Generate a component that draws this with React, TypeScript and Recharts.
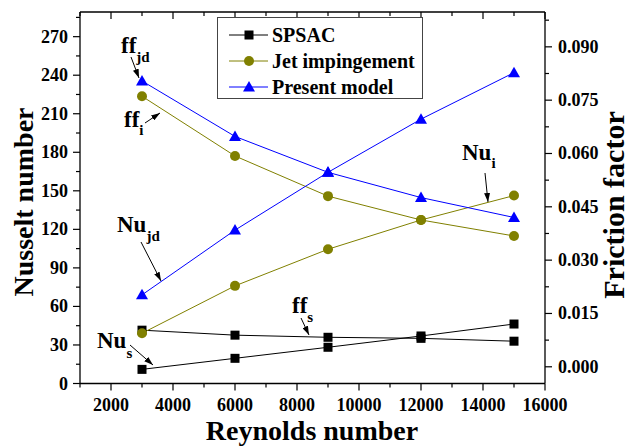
import { ComposedChart, Line, XAxis, YAxis, Legend, Customized } from "recharts";

const FONT = "'Liberation Serif', 'Times New Roman', serif";

// Reynolds numbers on the x axis
const reynolds = [3000, 6000, 9000, 12000, 15000];

// Nusselt number (left axis) and friction factor (right axis) per model
const nuSpsac = [11, 19.6, 28.2, 37, 46.3];
const ffSpsac = [0.0103, 0.0089, 0.0083, 0.008, 0.0072];
const nuJet = [39.1, 76, 104.5, 127.3, 146.3];
const ffJet = [0.0761, 0.0593, 0.048, 0.0413, 0.0368];
const nuPresent = [69, 119.4, 164.4, 205.8, 242];
const ffPresent = [0.0804, 0.0648, 0.0547, 0.0476, 0.042];

// tick values (major ones get labels)
const xTicks = [1000, 2000, 3000, 4000, 5000, 6000, 7000, 8000, 9000, 10000, 11000, 12000, 13000, 14000, 15000, 16000];
const xMajor = [2000, 4000, 6000, 8000, 10000, 12000, 14000, 16000];
const nuTicks = [0, 15, 30, 45, 60, 75, 90, 105, 120, 135, 150, 165, 180, 195, 210, 225, 240, 255, 270, 285];
const nuMajor = [0, 30, 60, 90, 120, 150, 180, 210, 240, 270];
const ffTicks = [0, 0.0075, 0.015, 0.0225, 0.03, 0.0375, 0.045, 0.0525, 0.06, 0.0675, 0.075, 0.0825, 0.09, 0.0975];
const ffMajor = [0, 0.015, 0.03, 0.045, 0.06, 0.075, 0.09];

const data = reynolds.map((re, i) => ({
  re,
  nuS: nuSpsac[i],
  ffS: ffSpsac[i],
  nuJ: nuJet[i],
  ffJ: ffJet[i],
  nuP: nuPresent[i],
  ffP: ffPresent[i],
}));

const BLACK = "#000000";
const OLIVE = "#808000";
const BLUE = "#0000FF";

const legendItems = [
  { name: "SPSAC", color: BLACK, shape: "square" },
  { name: "Jet impingement", color: OLIVE, shape: "circle" },
  { name: "Present model", color: BLUE, shape: "triangle" },
];

const labelStyle = { fontFamily: FONT, fontWeight: "bold" as const, fontSize: 18, fill: "#000" };

const Marker = ({ shape, cx, cy, color }: { shape: string; cx: number; cy: number; color: string }) => {
  if (shape === "square") return <rect x={cx - 4.5} y={cy - 4.5} width={9} height={9} fill={color} />;
  if (shape === "triangle")
    return <polygon points={`${cx},${cy - 6} ${cx - 6},${cy + 4.5} ${cx + 6},${cy + 4.5}`} fill={color} />;
  return <circle cx={cx} cy={cy} r={5} fill={color} />;
};

const squareDot = (props: any) => <Marker key={props.key} shape="square" cx={props.cx} cy={props.cy} color={BLACK} />;
const circleDot = (props: any) => <Marker key={props.key} shape="circle" cx={props.cx} cy={props.cy} color={OLIVE} />;
const triangleDot = (props: any) => <Marker key={props.key} shape="triangle" cx={props.cx} cy={props.cy} color={BLUE} />;

const BottomTick = (props: any) => {
  const { x, y, payload } = props;
  const major = xMajor.includes(payload.value);
  return (
    <g>
      <line x1={x} y1={y} x2={x} y2={y + (major ? 7 : 4)} stroke="#000" strokeWidth={1.2} />
      {major && (
        <text x={x} y={y + 27.5} textAnchor="middle" {...labelStyle}>
          {payload.value}
        </text>
      )}
    </g>
  );
};

const TopTick = (props: any) => {
  const { x, y, payload } = props;
  const major = xMajor.includes(payload.value);
  return <line x1={x} y1={y} x2={x} y2={y + (major ? 7 : 4)} stroke="#000" strokeWidth={1.2} />;
};

const LeftTick = (props: any) => {
  const { x, y, payload } = props;
  const major = nuMajor.includes(payload.value);
  return (
    <g>
      <line x1={x - (major ? 7 : 4)} y1={y} x2={x} y2={y} stroke="#000" strokeWidth={1.2} />
      {major && (
        <text x={x - 12} y={y + 6} textAnchor="end" {...labelStyle}>
          {payload.value}
        </text>
      )}
    </g>
  );
};

const RightTick = (props: any) => {
  const { x, y, payload } = props;
  const major = ffMajor.includes(payload.value);
  return (
    <g>
      <line x1={x} y1={y} x2={x + (major ? 7 : 4)} y2={y} stroke="#000" strokeWidth={1.2} />
      {major && (
        <text x={x + 13} y={y + 6} textAnchor="start" {...labelStyle}>
          {payload.value.toFixed(3)}
        </text>
      )}
    </g>
  );
};

const LegendBox = () => (
  <div
    style={{
      position: "relative",
      width: 206,
      height: 82,
      border: "1px solid #444",
      boxSizing: "border-box",
      background: "#fff",
      fontFamily: FONT,
      fontWeight: "bold",
      fontSize: 20,
      color: "#000",
    }}
  >
    {legendItems.map((it, i) => (
      <div
        key={it.name}
        style={{ position: "absolute", left: 0, top: 4 + i * 26, height: 26, display: "flex", alignItems: "center", whiteSpace: "nowrap" }}
      >
        <svg width={54} height={26} style={{ display: "block" }}>
          <line x1={11} x2={50} y1={13} y2={13} stroke={it.color} strokeWidth={1} />
          <Marker shape={it.shape} cx={31} cy={13} color={it.color} />
        </svg>
        <span style={{ lineHeight: "26px" }}>{it.name}</span>
      </div>
    ))}
  </div>
);

const Arrow = ({ x1, y1, x2, y2 }: { x1: number; y1: number; x2: number; y2: number }) => (
  <line x1={x1} y1={y1} x2={x2} y2={y2} stroke="#000" strokeWidth={1} markerEnd="url(#arrowHead)" />
);

const Note = ({ x, y, main, sub, dy }: { x: number; y: number; main: string; sub: string; dy: number }) => (
  <text x={x} y={y} fontFamily={FONT} fontWeight="bold" fontSize={23} fill="#000">
    {main}
    <tspan fontSize={15} dy={dy}>
      {sub}
    </tspan>
  </text>
);

const Annotations = () => (
  <g>
    <defs>
      <marker id="arrowHead" markerWidth={9} markerHeight={6} refX={9} refY={3} orient="auto" markerUnits="userSpaceOnUse">
        <path d="M0,0 L9,3 L0,6 z" fill="#000" />
      </marker>
    </defs>
    {/* axis titles */}
    <text x={33} y={202} transform="rotate(-90 33 202)" textAnchor="middle" fontFamily={FONT} fontWeight="bold" fontSize={28} fill="#000">
      Nusselt number
    </text>
    <text x={624} y={205} transform="rotate(-90 624 205)" textAnchor="middle" fontFamily={FONT} fontWeight="bold" fontSize={30} fill="#000">
      Friction factor
    </text>
    <text x={312} y={440} textAnchor="middle" fontFamily={FONT} fontWeight="bold" fontSize={28} fill="#000">
      Reynolds number
    </text>

    {/* curve labels */}
    <Note x={121} y={53} main="ff" sub="jd" dy={9} />
    <Arrow x1={131} y1={57} x2={139} y2={78} />
    <Note x={124} y={127} main="ff" sub="i" dy={8} />
    <Arrow x1={145} y1={123} x2={160} y2={113} />
    <Note x={117} y={232} main="Nu" sub="jd" dy={9} />
    <Arrow x1={141} y1={242} x2={161} y2={281} />
    <Note x={97} y={348} main="Nu" sub="s" dy={10} />
    <Arrow x1={130} y1={345} x2={153} y2={365} />
    <Note x={292} y={313} main="ff" sub="s" dy={9} />
    <Arrow x1={301} y1={318} x2={309} y2={335} />
    <Note x={462} y={160} main="Nu" sub="i" dy={8} />
    <Arrow x1={485} y1={173} x2={488} y2={202} />
  </g>
);

export default function App() {
  return (
    <div style={{ position: "absolute", left: 0, top: 0, background: "#fff" }}>
      <ComposedChart width={629} height={447} data={data} margin={{ top: 0, right: 0, bottom: 0, left: 0 }}>
        <XAxis
          xAxisId="bottom"
          type="number"
          dataKey="re"
          domain={[1000, 16000]}
          ticks={xTicks}
          interval={0}
          height={63.5}
          tickSize={0}
          tickMargin={0}
          tickLine={false}
          tick={<BottomTick />}
          axisLine={{ stroke: "#000", strokeWidth: 1.3 }}
        />
        <XAxis
          xAxisId="top"
          orientation="top"
          type="number"
          dataKey="re"
          domain={[1000, 16000]}
          ticks={xTicks}
          interval={0}
          height={12}
          tickSize={0}
          tickMargin={0}
          tickLine={false}
          tick={<TopTick />}
          axisLine={{ stroke: "#000", strokeWidth: 1.3 }}
        />
        <YAxis
          yAxisId="nu"
          type="number"
          domain={[0, 289.2]}
          ticks={nuTicks}
          interval={0}
          width={80}
          tickSize={0}
          tickMargin={0}
          tickLine={false}
          tick={<LeftTick />}
          axisLine={{ stroke: "#000", strokeWidth: 1.3 }}
        />
        <YAxis
          yAxisId="ff"
          orientation="right"
          type="number"
          domain={[-0.0047, 0.0998]}
          ticks={ffTicks}
          interval={0}
          width={84}
          tickSize={0}
          tickMargin={0}
          tickLine={false}
          tick={<RightTick />}
          axisLine={{ stroke: "#000", strokeWidth: 1.3 }}
        />

        <Line xAxisId="bottom" yAxisId="nu" dataKey="nuS" stroke={BLACK} strokeWidth={1} dot={squareDot} isAnimationActive={false} />
        <Line xAxisId="bottom" yAxisId="ff" dataKey="ffS" stroke={BLACK} strokeWidth={1} dot={squareDot} isAnimationActive={false} />
        <Line xAxisId="bottom" yAxisId="nu" dataKey="nuJ" stroke={OLIVE} strokeWidth={1} dot={circleDot} isAnimationActive={false} />
        <Line xAxisId="bottom" yAxisId="ff" dataKey="ffJ" stroke={OLIVE} strokeWidth={1} dot={circleDot} isAnimationActive={false} />
        <Line xAxisId="bottom" yAxisId="nu" dataKey="nuP" stroke={BLUE} strokeWidth={1} dot={triangleDot} isAnimationActive={false} />
        <Line xAxisId="bottom" yAxisId="ff" dataKey="ffP" stroke={BLUE} strokeWidth={1} dot={triangleDot} isAnimationActive={false} />

        <Legend
          layout="vertical"
          align="center"
          verticalAlign="middle"
          content={<LegendBox />}
          wrapperStyle={{ left: 217, top: 17, width: 206, height: 82 }}
        />
        <Customized component={<Annotations />} />
      </ComposedChart>
    </div>
  );
}
